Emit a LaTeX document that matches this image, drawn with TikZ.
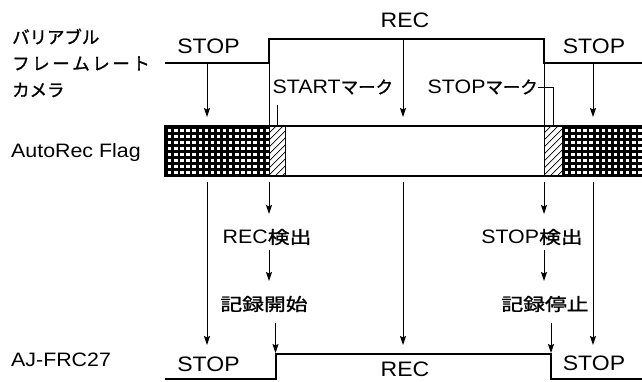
\documentclass[tikz,border=0pt]{standalone}
\usepackage{fontspec}
\setmainfont{Liberation Sans}[FakeStretch=1.1]
\newfontfamily\jk{Noto Sans CJK JP}[FakeBold=1.3]
\newfontfamily\jw{Noto Sans CJK JP}[FakeStretch=1.25,FakeBold=1.3]
\usetikzlibrary{arrows.meta}
\tikzset{
  sig/.style={line width=2.2bp, line join=miter},
  thin/.style={line width=1bp},
  arr/.style={line width=1bp, -{Stealth[length=9bp,width=6bp,inset=1.5bp]}},
  lab/.style={inner sep=0pt, font=\fontsize{19.5}{20}\selectfont},
  big/.style={inner sep=0pt, font=\fontsize{21}{22}\selectfont},
  jp/.style={inner sep=0pt, font=\fontsize{17.5}{18}\selectfont\jk},
}
\begin{document}
\begin{tikzpicture}[x=1bp,y=-1bp]
\useasboundingbox (0,0) rectangle (642,381);
\fill[white] (0,0) rectangle (642,381);

% left labels
\node[jp, anchor=west] (cam1) at (12,36.5) {バリアブル};
\node[jp, anchor=west] (cam2) at (12,63.5) {フ\kern2.6bp レ\kern2.6bp ー\kern2.6bp ム\kern2.6bp レ\kern2.6bp ー\kern2.6bp ト};
\node[jp, anchor=west] (cam3) at (12,90) {カメラ};
\node[lab, anchor=west] (flag) at (11,152) {AutoRec Flag};
\node[lab, anchor=west] (aj) at (11,360) {AJ-FRC27};

% top waveform
\draw[sig] (165,63) -- (269,63) -- (269,39) -- (544,39) -- (544,63) -- (642,63);
\node[big] (tstop1) at (208.5,46) {STOP};
\node[big] (trec) at (405,20) {REC};
\node[big] (tstop2) at (594,46) {STOP};
\coordinate (rise) at (269,63);
\coordinate (fall) at (544,63);
\coordinate (riseb) at (269,126);
\coordinate (fallb) at (544,126);
\draw[thin] (rise) -- (riseb);
\draw[thin] (fall) -- (fallb);

% marks
\node[lab, anchor=west] (startm) at (272.5,87) {START{\fontsize{17.5}{18}\selectfont\jk マーク}};
\node[lab, anchor=east] (stopm) at (538,87) {STOP{\fontsize{17.5}{18}\selectfont\jk マーク}};
\coordinate (sm1) at (277,105);
\coordinate (sm2) at (277,126);
\draw[thin] (sm1) -- (sm2);
\coordinate (pm1) at (553.5,87);
\coordinate (pm2) at (553.5,126);
\draw[thin] (stopm.east) -- (pm1) -- (pm2);

% flag bar
\fill[black] (165,126) rectangle (269,176);
\foreach \i in {0,...,16}{
  \foreach \j in {0,...,7}{
    \fill[white] ({168+6.1*\i},{128.6+6.0*\j}) rectangle ++(3.4,3);
  }
}
\fill[black] (562,126) rectangle (642,176);
\foreach \i in {0,...,12}{
  \foreach \j in {0,...,7}{
    \fill[white] ({565+6.1*\i},{128.6+6.0*\j}) rectangle ++(3.4,3);
  }
}
\begin{scope}
  \clip (269,126) rectangle (285,176);
  \foreach \k in {0,...,12}{ \draw[line width=0.7bp] (262,{126+7*\k}) -- ++(35,-35); }
\end{scope}
\begin{scope}
  \clip (544,126) rectangle (562,176);
  \foreach \k in {0,...,12}{ \draw[line width=0.7bp] (537,{126+7*\k}) -- ++(35,-35); }
\end{scope}
\draw[line width=1.6bp] (642,126) -- (165,126) -- (165,176) -- (642,176);
\draw[thin] (269,126) -- (269,176);
\draw[thin] (285,126) -- (285,176);
\draw[thin] (544,126) -- (544,176);
\draw[thin] (562,126) -- (562,176);

% arrows from top waveform into bar
\coordinate (ta1) at (207,63);  \coordinate (tb1) at (207,117);
\coordinate (ta2) at (403,39);  \coordinate (tb2) at (403,117);
\coordinate (ta3) at (593,63);  \coordinate (tb3) at (593,117);
\draw[arr] (ta1) -- (tb1);
\draw[arr] (ta2) -- (tb2);
\draw[arr] (ta3) -- (tb3);

% detection chain
\node[lab] (recdet) at (267,237) {REC{\fontsize{17.5}{18}\selectfont\jw 検出}};
\node[jp, font=\fontsize{17.5}{18}\selectfont\jw] (recst) at (264,304) {記録開始};
\node[lab] (stopdet) at (532,237) {STOP{\fontsize{17.5}{18}\selectfont\jw 検出}};
\node[jp, font=\fontsize{17.5}{18}\selectfont\jw] (recsp) at (545,304) {記録停止};

\coordinate (b1s) at (207,182); \coordinate (b1e) at (207,345);
\coordinate (b2s) at (269,182); \coordinate (b2e) at (269,214);
\coordinate (b3s) at (403,182); \coordinate (b3e) at (403,345);
\coordinate (b4s) at (544,182); \coordinate (b4e) at (544,214);
\coordinate (b5s) at (593,182); \coordinate (b5e) at (593,345);
\draw[arr] (b1s) -- (b1e);
\draw[arr] (b2s) -- (b2e);
\draw[arr] (b3s) -- (b3e);
\draw[arr] (b4s) -- (b4e);
\draw[arr] (b5s) -- (b5e);

\coordinate (c1s) at (269,250); \coordinate (c1e) at (269,281);
\coordinate (c2s) at (275.5,323); \coordinate (c2e) at (275.5,353);
\coordinate (c3s) at (544,250); \coordinate (c3e) at (544,281);
\coordinate (c4s) at (551,323); \coordinate (c4e) at (551,353);
\draw[arr] (c1s) -- (c1e);
\draw[arr] (c2s) -- (c2e);
\draw[arr] (c3s) -- (c3e);
\draw[arr] (c4s) -- (c4e);

% bottom waveform
\draw[sig] (165,379) -- (276,379) -- (276,354) -- (551,354) -- (551,379) -- (642,379);
\node[big] (bstop1) at (208.5,364.5) {STOP};
\node[big] (brec) at (405,369) {REC};
\node[big] (bstop2) at (594,363.5) {STOP};
\end{tikzpicture}
\end{document}
